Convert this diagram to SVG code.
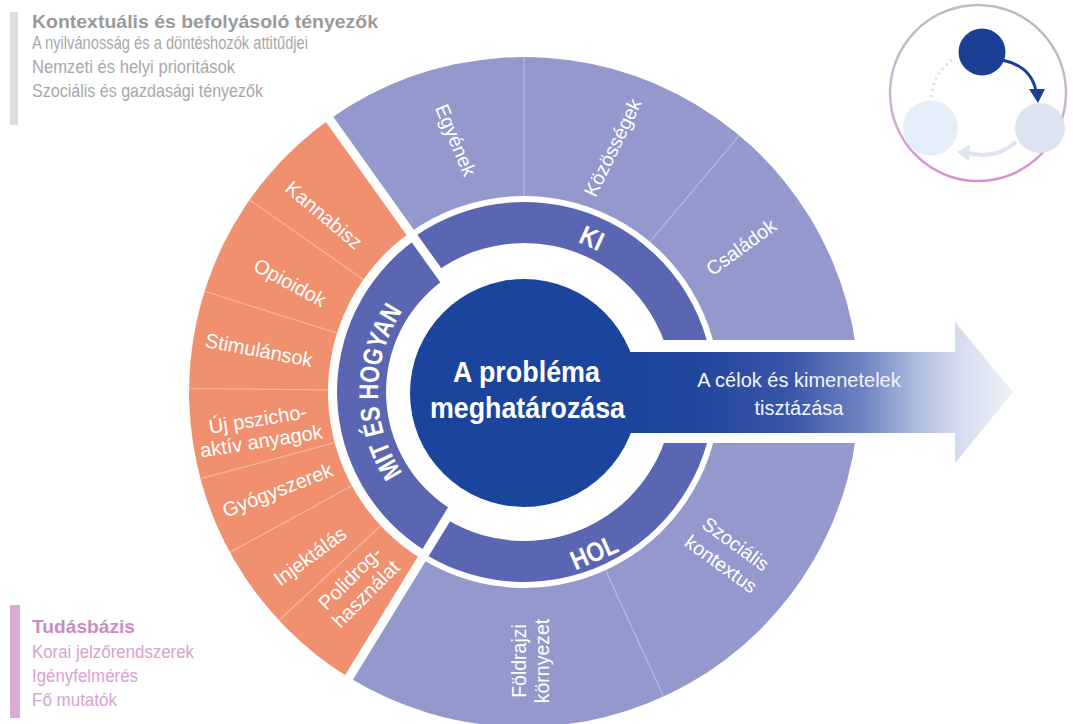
<svg xmlns="http://www.w3.org/2000/svg" width="1073" height="724" viewBox="0 0 1073 724">
  <defs>
    <style>
      .lbl { fill: #ffffff; font-family: "Liberation Sans", Arial, sans-serif; font-size: 20px; text-anchor: middle; }
      .lbl-b { fill: #ffffff; font-family: "Liberation Sans", Arial, sans-serif; font-size: 19.5px; text-anchor: middle; }
      .ring-lbl { fill: #ffffff; font-family: "Liberation Sans", Arial, sans-serif; font-weight: bold; font-size: 27px; text-anchor: middle; }
      .core-lbl { fill: #ffffff; font-family: "Liberation Sans", Arial, sans-serif; font-weight: bold; font-size: 29px; text-anchor: middle; }
      .arrow-lbl { fill: #f2f4fa; font-family: "Liberation Sans", Arial, sans-serif; font-size: 20px; text-anchor: middle; }
      .side-h { font-family: "Liberation Sans", Arial, sans-serif; font-weight: bold; font-size: 18.5px; }
      .side-t { font-family: "Liberation Sans", Arial, sans-serif; font-size: 18.5px; }
      .side-t2 { font-family: "Liberation Sans", Arial, sans-serif; font-size: 17.5px; }
      .orange { fill: #f0906f; }
      .light { fill: #9399cc; }
      .ring { fill: #5a66b1; }
      .sep-o { stroke: #f8b79f; stroke-width: 1.2; }
      .sep-l { stroke: #b7bbe0; stroke-width: 1.2; }
      .gap { stroke: #ffffff; stroke-width: 9; }
    </style>
    <linearGradient id="arrowFill" gradientUnits="userSpaceOnUse" x1="600" y1="0" x2="1013" y2="0">
      <stop offset="0" stop-color="#1b449c"/>
      <stop offset="0.24" stop-color="#22479e"/>
      <stop offset="0.46" stop-color="#3a56a8"/>
      <stop offset="0.64" stop-color="#6f84c2"/>
      <stop offset="0.77" stop-color="#b0bddf"/>
      <stop offset="0.87" stop-color="#d5dcee"/>
      <stop offset="1" stop-color="#eef1f8"/>
    </linearGradient>
    <linearGradient id="cycleRing" x1="0" y1="0" x2="0" y2="1">
      <stop offset="0" stop-color="#bdbdbd"/>
      <stop offset="0.55" stop-color="#c9b3cf"/>
      <stop offset="1" stop-color="#d98ed0"/>
    </linearGradient>
    <path id="mitArc" d="M451,518.4 A146,146 0 0 1 451,265.6"/>
  </defs>

  <rect width="1073" height="724" fill="#ffffff"/>

  <!-- context factors panel -->
  <g id="context-factors">
    <rect x="10" y="12" width="8" height="113" fill="#dedede"/>
    <text class="side-h" x="32" y="28" fill="#9a9a9a" textLength="346" lengthAdjust="spacingAndGlyphs">Kontextuális és befolyásoló tényezők</text>
    <text class="side-t" x="32" y="49" fill="#a8a8a8" textLength="276" lengthAdjust="spacingAndGlyphs">A nyilvánosság és a döntéshozók attitűdjei</text>
    <text class="side-t" x="32" y="73" fill="#a8a8a8" textLength="203" lengthAdjust="spacingAndGlyphs">Nemzeti és helyi prioritások</text>
    <text class="side-t" x="32" y="97" fill="#a8a8a8" textLength="231" lengthAdjust="spacingAndGlyphs">Szociális és gazdasági tényezők</text>
  </g>

  <!-- knowledge base panel -->
  <g id="knowledge-base">
    <rect x="10" y="605" width="10" height="113" fill="#ddaad8"/>
    <text class="side-h" x="32" y="633" fill="#c98cc4" textLength="103" lengthAdjust="spacingAndGlyphs">Tudásbázis</text>
    <text class="side-t2" x="32" y="658" fill="#d7a2d2" textLength="162" lengthAdjust="spacingAndGlyphs">Korai jelzőrendszerek</text>
    <text class="side-t2" x="32" y="682" fill="#d7a2d2" textLength="106" lengthAdjust="spacingAndGlyphs">Igényfelmérés</text>
    <text class="side-t2" x="32" y="706" fill="#d7a2d2" textLength="85" lengthAdjust="spacingAndGlyphs">Fő mutatók</text>
  </g>

  <!-- WHAT AND HOW: substances and patterns of use -->
  <g id="node-mit">
    <path class="orange" d="M349.0,677.6 A335,335 0 0 1 329.5,119.3 L410.2,232.4 A196,196 0 0 0 421.6,559.1 Z"/>
    <path class="ring" d="M426.3,551.4 A187,187 0 0 1 415.4,239.8 L443.9,279.7 A138,138 0 0 0 451.9,509.7 Z"/>
    <line class="sep-o" x1="363.4" y1="279.6" x2="249.6" y2="199.8"/>
    <line class="sep-o" x1="337.1" y1="333.1" x2="204.5" y2="291.3"/>
    <line class="sep-o" x1="328.0" y1="389.9" x2="189.0" y2="388.5"/>
    <line class="sep-o" x1="334.7" y1="442.7" x2="200.4" y2="478.7"/>
    <line class="sep-o" x1="351.9" y1="485.8" x2="229.9" y2="552.4"/>
    <line class="sep-o" x1="380.6" y1="525.7" x2="279.0" y2="620.5"/>
    <text class="ring-lbl" textLength="172" lengthAdjust="spacingAndGlyphs"><textPath href="#mitArc" startOffset="50%" textLength="172" lengthAdjust="spacingAndGlyphs">MIT ÉS HOGYAN</textPath></text>
    <g id="item-kannabisz"><text class="lbl" transform="translate(324,215) rotate(40)" dy="7">Kannabisz</text></g>
    <g id="item-opioidok"><text class="lbl" transform="translate(290,282.5) rotate(28.7)" dy="7">Opioidok</text></g>
    <g id="item-stimulansok"><text class="lbl" transform="translate(259,350) rotate(10.8)" dy="7">Stimulánsok</text></g>
    <g id="item-uj-pszichoaktiv"><text class="lbl" transform="translate(259.5,430) rotate(-9)"><tspan x="0" y="-4">Új pszicho-</tspan><tspan x="0" y="18">aktív anyagok</tspan></text></g>
    <g id="item-gyogyszerek"><text class="lbl" transform="translate(277.5,490) rotate(-21.3)" dy="7">Gyógyszerek</text></g>
    <g id="item-injektalas"><text class="lbl" transform="translate(310,556) rotate(-36.4)" dy="7">Injektálás</text></g>
    <g id="item-polidrog"><text class="lbl" transform="translate(358,586) rotate(-45)"><tspan x="0" y="-4.4">Polidrog-</tspan><tspan x="0" y="18">használat</tspan></text></g>
  </g>

  <!-- WHO -->
  <g id="node-ki">
    <path class="light" d="M329.5,119.3 A335,335 0 0 1 859,392 L720,392 A196,196 0 0 0 410.2,232.4 Z"/>
    <path class="ring" d="M413.7,237.3 A190,190 0 0 1 714,392 L673,392 A149,149 0 0 0 437.5,270.7 Z"/>
    <line class="sep-l" x1="524" y1="196" x2="524" y2="57"/>
    <line class="sep-l" x1="650.0" y1="241.9" x2="739.3" y2="135.4"/>
    <text class="ring-lbl" transform="translate(592,238) rotate(24.6) scale(0.85,1)" dy="9.5">KI</text>
    <g id="item-egyenek"><text class="lbl-b" transform="translate(456,140) rotate(67)" dy="7">Egyének</text></g>
    <g id="item-kozossegek"><text class="lbl-b" transform="translate(612.5,147.5) rotate(-64)" dy="7">Közösségek</text></g>
    <g id="item-csaladok"><text class="lbl-b" transform="translate(741,247) rotate(-36)" dy="7">Családok</text></g>
  </g>

  <!-- WHERE -->
  <g id="node-hol">
    <path class="light" d="M859,392 A335,335 0 0 1 349.0,677.6 L421.6,559.1 A196,196 0 0 0 720,392 Z"/>
    <path class="ring" d="M714,392 A190,190 0 0 1 424.7,554.0 L446.1,519.0 A149,149 0 0 0 673,392 Z"/>
    <line class="sep-l" x1="605.6" y1="570.2" x2="663.5" y2="696.6"/>
    <text class="ring-lbl" transform="translate(594,552) rotate(-23.6) scale(0.85,1)" dy="9.5">HOL</text>
    <g id="item-szocialis"><text class="lbl-b" transform="translate(728.5,553.8) rotate(36)"><tspan x="0" y="-5.5">Szociális</tspan><tspan x="0" y="19.5">kontextus</tspan></text></g>
    <g id="item-foldrajzi"><text class="lbl-b" transform="translate(530.5,661) rotate(-90)"><tspan x="0" y="-4.5">Földrajzi</tspan><tspan x="0" y="18.5">környezet</tspan></text></g>
  </g>

  <!-- white gaps between the three sections -->
  <g id="section-gaps">
    <line class="gap" x1="451.4" y1="290.2" x2="323.7" y2="111.1"/>
    <line class="gap" x1="458.7" y1="498.6" x2="343.7" y2="686.1"/>
    <rect x="622" y="340" width="245" height="103" fill="#ffffff"/>
  </g>

  <g id="connectors">
    <g id="goals-arrow">
      <path d="M600,352 L955,352 L955,322 L1013,392 L955,463 L955,433 L600,433 Z" fill="url(#arrowFill)"/>
      <text class="arrow-lbl" x="799" y="387">A célok és kimenetelek</text>
      <text class="arrow-lbl" x="799" y="415">tisztázása</text>
    </g>
  </g>

  <!-- problem definition core -->
  <g id="node-core">
    <circle cx="524" cy="393" r="114" fill="#1b449c"/>
    <text class="core-lbl" x="526.5" y="382" textLength="147" lengthAdjust="spacingAndGlyphs">A probléma</text>
    <text class="core-lbl" x="527.5" y="418" textLength="195" lengthAdjust="spacingAndGlyphs">meghatározása</text>
  </g>

  <!-- cycle overview -->
  <g id="cycle-overview">
    <circle cx="978" cy="93" r="88" fill="none" stroke="url(#cycleRing)" stroke-width="2.5"/>
    <g id="cycle-node-left"><circle cx="930.5" cy="128" r="27.5" fill="#e4eef8"/></g>
    <g id="cycle-node-right"><circle cx="1040" cy="128" r="25" fill="#dfe4f2"/></g>
    <g id="cycle-node-top"><circle cx="982" cy="52" r="23.5" fill="#1b3f95"/></g>
    <g id="cycle-links">
      <path d="M1002,60 Q1031,66 1036,91" fill="none" stroke="#1b3f95" stroke-width="3"/>
      <polygon points="1029,89 1045,89 1038,103" fill="#1b3f95"/>
      <path d="M1016,142 Q996,160 969,153" fill="none" stroke="#dfe3f1" stroke-width="4"/>
      <polygon points="957,152 970,145 969,161" fill="#dfe3f1"/>
      <path d="M931,97 Q934,70 956,58" fill="none" stroke="#d2e2f1" stroke-width="3" stroke-dasharray="2 4"/>
    </g>
  </g>
</svg>
